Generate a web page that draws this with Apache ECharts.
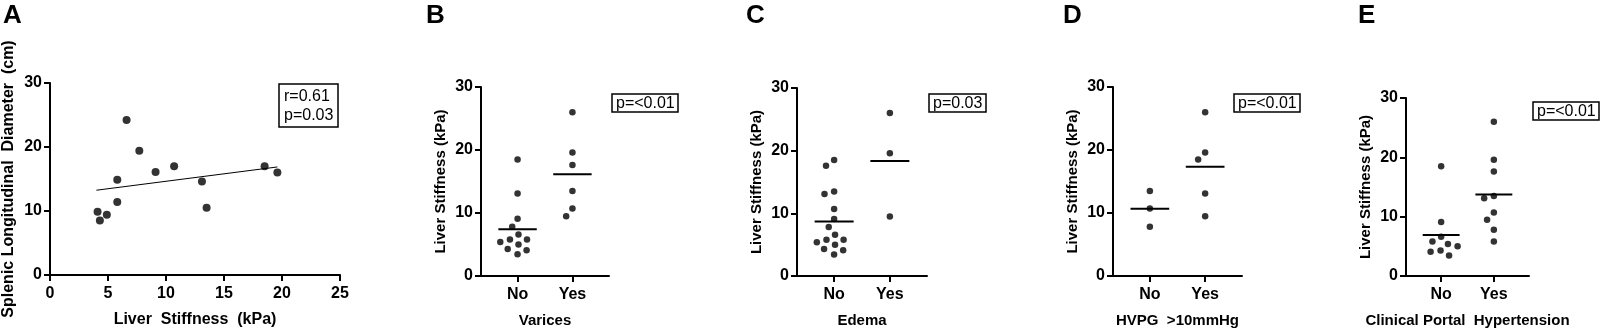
<!DOCTYPE html>
<html>
<head>
<meta charset="utf-8">
<script src="https://cdn.jsdelivr.net/npm/echarts@6/dist/echarts.min.js"></script>
<style>
  html, body { margin: 0; padding: 0; background: #fff; }
  #chart { width: 1600px; height: 333px; }
</style>
</head>
<body>
<div id="chart"></div>
<script>
// panel A: spleen size vs liver stiffness
const liverStiffnessA = [4.1, 4.3, 4.9, 5.8, 5.8, 6.6, 7.7, 9.1, 10.7, 13.1, 13.5, 18.5, 19.6];
const spleenDiameterA = [9.9, 8.5, 9.4, 14.9, 11.4, 24.2, 19.4, 16.1, 17.0, 14.6, 10.5, 17.0, 16.0];

// panels B-E: liver stiffness by group
const groupLabels = ['No', 'Yes'];
const varicesNo = [18.5, 13.1, 9.1, 7.8, 6.6, 5.8, 5.8, 5.4, 5.0, 4.3, 4.1, 3.45];
const varicesYes = [26.0, 19.6, 17.6, 13.5, 10.7, 9.5];
const edemaNo = [18.5, 17.6, 13.5, 13.1, 10.7, 9.1, 7.8, 6.6, 5.8, 5.8, 5.4, 5.0, 4.3, 4.1, 3.45];
const edemaYes = [26.0, 19.6, 9.5];
const hvpgNo = [13.5, 10.7, 7.8];
const hvpgYes = [26.0, 19.6, 18.5, 13.1, 9.5];
const cphNo = [18.5, 9.1, 6.6, 5.8, 5.4, 5.0, 4.3, 4.1, 3.45];
const cphYes = [26.0, 19.6, 17.6, 13.5, 13.1, 10.7, 9.5, 7.8, 5.8];

const FONT = '"Liberation Sans", Arial, sans-serif';
const chart = echarts.init(document.getElementById('chart'));

// panel layout (pixels)
const panels = [
  { letter: 'B', name: 'Varices', groups: [varicesNo, varicesYes], stat: 'p=<0.01',
    grid: { left: 481, top: 87, width: 128, height: 195 }, letterX: 426, stat_xy: [612, 94] },
  { letter: 'C', name: 'Edema', groups: [edemaNo, edemaYes], stat: 'p=0.03',
    grid: { left: 797, top: 88, width: 130, height: 194 }, letterX: 746, stat_xy: [929, 94] },
  { letter: 'D', name: 'HVPG  >10mmHg', groups: [hvpgNo, hvpgYes], stat: 'p=<0.01',
    grid: { left: 1113, top: 87, width: 129, height: 195 }, letterX: 1063, stat_xy: [1234, 94] },
  { letter: 'E', name: 'Clinical Portal  Hypertension', groups: [cphNo, cphYes], stat: 'p=<0.01',
    grid: { left: 1406, top: 98, width: 123, height: 184 }, letterX: 1358, stat_xy: [1533, 102] }
];

// simple beeswarm: horizontal pixel offsets so dots don't overlap
function swarm(values, pxPerUnit, dmin) {
  const order = values.map((v, i) => i).sort((a, b) => values[b] - values[a]);
  const placed = [];
  const out = new Array(values.length).fill(0);
  order.forEach(i => {
    const y = values[i] * pxPerUnit;
    const cands = [0];
    placed.forEach(p => {
      const dy = Math.abs(p.y - y);
      if (dy < dmin) {
        const w = Math.sqrt(dmin * dmin - dy * dy);
        cands.push(p.x - w, p.x + w);
      }
    });
    cands.sort((a, b) => Math.abs(a) - Math.abs(b) || a - b);
    const x = cands.find(c => placed.every(p => Math.hypot(p.x - c, p.y - y) >= dmin - 1e-6));
    placed.push({ x, y });
    out[i] = x;
  });
  return out;
}

const mean = arr => arr.reduce((s, v) => s + v, 0) / arr.length;

const axisLine = { lineStyle: { color: '#000', width: 2 } };
const axisTick = { inside: false, length: 6, lineStyle: { color: '#000', width: 2 } };
const tickLabel = { color: '#000', fontSize: 16, fontWeight: 'bold', fontFamily: FONT };
const nameStyle = { color: '#000', fontSize: 15, fontWeight: 'bold', fontFamily: FONT };
const nameStyleA = Object.assign({}, nameStyle, { fontSize: 16 });
const letterStyle = { fontSize: 26, fontWeight: 'bold', fontFamily: FONT, color: '#000' };

const grids = [{ left: 50, top: 83, width: 290, height: 193 }];
const xAxes = [{
  gridIndex: 0, type: 'value', min: 0, max: 25, interval: 5,
  name: 'Liver  Stiffness  (kPa)', nameLocation: 'middle', nameGap: 37, nameTextStyle: nameStyleA,
  axisLine, axisTick, splitLine: { show: false },
  axisLabel: Object.assign({ margin: 11 }, tickLabel)
}];
const yAxes = [{
  gridIndex: 0, type: 'value', min: 0, max: 30, interval: 10,
  name: 'Splenic Longitudinal  Diameter  (cm)', nameLocation: 'middle', nameGap: 33, nameTextStyle: nameStyleA,
  axisLine: Object.assign({ show: true }, axisLine), axisTick, splitLine: { show: false },
  axisLabel: Object.assign({ margin: 8 }, tickLabel)
}];

// regression line for panel A
const n = liverStiffnessA.length;
const mx = mean(liverStiffnessA), my = mean(spleenDiameterA);
let sxy = 0, sxx = 0;
for (let i = 0; i < n; i++) {
  sxy += (liverStiffnessA[i] - mx) * (spleenDiameterA[i] - my);
  sxx += (liverStiffnessA[i] - mx) ** 2;
}
const slope = sxy / sxx, icpt = my - slope * mx;
const xLo = Math.min(...liverStiffnessA) - 0.1, xHi = Math.max(...liverStiffnessA);

const series = [
  { type: 'scatter', xAxisIndex: 0, yAxisIndex: 0, symbolSize: 8, itemStyle: { color: '#000' },
    data: liverStiffnessA.map((x, i) => [x, spleenDiameterA[i]]) },
  { type: 'line', xAxisIndex: 0, yAxisIndex: 0, symbol: 'none', lineStyle: { color: '#000', width: 1 },
    data: [[xLo, icpt + slope * xLo], [xHi, icpt + slope * xHi]] }
];

const titles = [
  { text: 'A', left: 3, top: 3, padding: 0, textStyle: letterStyle },
  { text: 'r=0.61\np=0.03', left: 279, top: 84, padding: [3, 5, 2, 5], borderColor: '#000', borderWidth: 1.5,
    textStyle: { fontSize: 16, lineHeight: 19, fontWeight: 'normal', fontFamily: FONT, color: '#000' } }
];

panels.forEach((p, k) => {
  const gi = k + 1;
  grids.push(p.grid);
  xAxes.push({
    gridIndex: gi, type: 'value', min: 1 / 3, max: 8 / 3,
    name: p.name, nameLocation: 'middle', nameGap: 37, nameTextStyle: nameStyle,
    axisLine, splitLine: { show: false },
    axisTick: Object.assign({ customValues: [1, 2] }, axisTick),
    axisLabel: Object.assign({ margin: 11, customValues: [1, 2], formatter: v => groupLabels[Math.round(v) - 1] }, tickLabel)
  });
  yAxes.push({
    gridIndex: gi, type: 'value', min: 0, max: 30, interval: 10,
    name: 'Liver Stiffness (kPa)', nameLocation: 'middle', nameGap: 33, nameTextStyle: nameStyle,
    axisLine: Object.assign({ show: true }, axisLine), axisTick, splitLine: { show: false },
    axisLabel: Object.assign({ margin: 8 }, tickLabel)
  });
  const pxPerUnit = p.grid.height / 30;
  const dots = [];
  p.groups.forEach((vals, g) => {
    const offs = swarm(vals, pxPerUnit, 10);
    vals.forEach((v, i) => dots.push({ value: [g + 1, v], symbolOffset: [offs[i], 0] }));
    const m = mean(vals);
    series.push({ type: 'line', xAxisIndex: gi, yAxisIndex: gi, symbol: 'none',
      lineStyle: { color: '#000', width: 2 }, data: [[g + 1 - 0.35, m], [g + 1 + 0.35, m]] });
  });
  series.push({ type: 'scatter', xAxisIndex: gi, yAxisIndex: gi, symbolSize: 6.5,
    itemStyle: { color: '#000' }, data: dots });
  titles.push({ text: p.letter, left: p.letterX, top: 3, padding: 0, textStyle: letterStyle });
  titles.push({ text: p.stat, left: p.stat_xy[0], top: p.stat_xy[1], padding: [1, 4, 0, 4],
    borderColor: '#000', borderWidth: 1.5,
    textStyle: { fontSize: 16, lineHeight: 17, fontWeight: 'normal', fontFamily: FONT, color: '#000' } });
});

chart.setOption({
  animation: false,
  backgroundColor: '#fff',
  title: titles,
  grid: grids,
  xAxis: xAxes,
  yAxis: yAxes,
  series
});
</script>
</body>
</html>
